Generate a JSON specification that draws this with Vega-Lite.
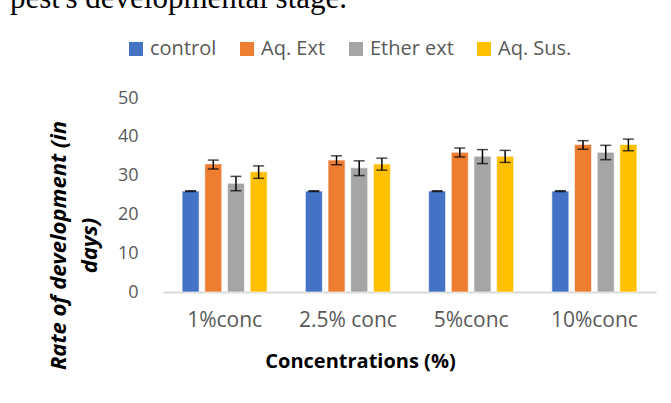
{
  "$schema": "https://vega.github.io/schema/vega-lite/v6.json",
  "width": 493,
  "height": 194,
  "autosize": {"type": "none"},
  "padding": {"left": 163, "top": 98, "right": 15, "bottom": 111},
  "background": "white",
  "config": {
    "view": {"stroke": null},
    "axisY": {
      "values": [0, 10, 20, 30, 40, 50],
      "labelOverlap": false,
      "labelFlush": false,
      "titleFont": "Open Sans",
      "titleFontSize": 22,
      "titleFontWeight": "bold",
      "titleFontStyle": "italic",
      "titleColor": "black",
      "titleLineHeight": 31,
      "titleX": -93,
      "titleY": 147,
      "labelFont": "Open Sans",
      "labelFontSize": 18,
      "labelColor": "#595959",
      "labelPadding": 25,
      "ticks": false,
      "domain": false,
      "grid": false
    }
  },
  "title": {
    "text": "pest's developmental stage.",
    "font": "Liberation Serif",
    "fontSize": 31,
    "fontWeight": "normal",
    "color": "black",
    "anchor": "start",
    "frame": "group",
    "baseline": "alphabetic",
    "dx": -153,
    "offset": 0
  },
  "data": {
    "values": [
      {"group": "1%conc", "series": "control", "value": 26, "lo": 25.9, "hi": 26.1},
      {"group": "1%conc", "series": "Aq. Ext", "value": 33, "lo": 31.7, "hi": 34.0},
      {"group": "1%conc", "series": "Ether ext", "value": 28, "lo": 26.1, "hi": 29.8},
      {"group": "1%conc", "series": "Aq. Sus.", "value": 31, "lo": 29.3, "hi": 32.5},
      {"group": "2.5% conc", "series": "control", "value": 26, "lo": 25.9, "hi": 26.1},
      {"group": "2.5% conc", "series": "Aq. Ext", "value": 34, "lo": 32.8, "hi": 35.1},
      {"group": "2.5% conc", "series": "Ether ext", "value": 32, "lo": 30.0, "hi": 33.8},
      {"group": "2.5% conc", "series": "Aq. Sus.", "value": 33, "lo": 31.4, "hi": 34.5},
      {"group": "5%conc", "series": "control", "value": 26, "lo": 25.9, "hi": 26.1},
      {"group": "5%conc", "series": "Aq. Ext", "value": 36, "lo": 34.8, "hi": 37.1},
      {"group": "5%conc", "series": "Ether ext", "value": 35, "lo": 33.1, "hi": 36.7},
      {"group": "5%conc", "series": "Aq. Sus.", "value": 35, "lo": 33.4, "hi": 36.5},
      {"group": "10%conc", "series": "control", "value": 26, "lo": 25.9, "hi": 26.1},
      {"group": "10%conc", "series": "Aq. Ext", "value": 38, "lo": 36.8, "hi": 39.0},
      {"group": "10%conc", "series": "Ether ext", "value": 36, "lo": 34.1, "hi": 37.8},
      {"group": "10%conc", "series": "Aq. Sus.", "value": 38, "lo": 36.4, "hi": 39.4}
    ]
  },
  "encoding": {
    "x": {
      "field": "group",
      "type": "nominal",
      "sort": ["1%conc", "2.5% conc", "5%conc", "10%conc"],
      "scale": {"paddingInner": 0.31, "paddingOuter": 0.155},
      "axis": {
        "title": "Concentrations (%)",
        "titleFont": "Open Sans",
        "titleFontSize": 20,
        "titleFontWeight": "bold",
        "titleColor": "black",
        "titlePadding": 21,
        "titleX": 197,
        "labelFont": "Open Sans",
        "labelFontSize": 21,
        "labelColor": "#595959",
        "labelAngle": 0,
        "labelPadding": 17,
        "ticks": false,
        "domainColor": "#D9D9D9",
        "domainWidth": 2,
        "grid": false
      }
    },
    "xOffset": {
      "field": "series",
      "type": "nominal",
      "sort": ["control", "Aq. Ext", "Ether ext", "Aq. Sus."],
      "scale": {"paddingInner": 0.25, "paddingOuter": 0}
    }
  },
  "layer": [
    {
      "mark": {"type": "bar", "stroke": "white", "strokeWidth": 1, "strokeOpacity": 0.6},
      "encoding": {
        "y": {
          "field": "value",
          "type": "quantitative",
          "scale": {"domain": [0, 50], "nice": false, "zero": true},
          "axis": {"title": ["Rate of development (in", "\u00a0\u00a0\u00a0\u00a0\u00a0\u00a0\u00a0\u00a0\u00a0\u00a0\u00a0\u00a0days)"]}
        },
        "color": {
          "field": "series",
          "type": "nominal",
          "sort": ["control", "Aq. Ext", "Ether ext", "Aq. Sus."],
          "scale": {
            "domain": ["control", "Aq. Ext", "Ether ext", "Aq. Sus."],
            "range": ["#4472C4", "#ED7D31", "#A5A5A5", "#FFC000"]
          },
          "legend": {
            "title": null,
            "orient": "none",
            "direction": "horizontal",
            "legendX": -37,
            "legendY": -59,
            "symbolType": "square",
            "symbolSize": 196,
            "symbolStrokeWidth": 0,
            "labelFont": "Open Sans",
            "labelFontSize": 20,
            "labelColor": "#595959",
            "labelOffset": 4,
            "columnPadding": 20
          }
        }
      }
    },
    {
      "mark": {"type": "rule", "color": "black", "strokeWidth": 1.5},
      "encoding": {
        "y": {"field": "lo", "type": "quantitative", "axis": {"title": ["Rate of development (in", "\u00a0\u00a0\u00a0\u00a0\u00a0\u00a0\u00a0\u00a0\u00a0\u00a0\u00a0\u00a0days)"]}},
        "y2": {"field": "hi"}
      }
    },
    {
      "mark": {"type": "tick", "color": "black", "thickness": 1.5, "size": 11},
      "encoding": {
        "y": {"field": "lo", "type": "quantitative", "axis": {"title": ["Rate of development (in", "\u00a0\u00a0\u00a0\u00a0\u00a0\u00a0\u00a0\u00a0\u00a0\u00a0\u00a0\u00a0days)"]}}
      }
    },
    {
      "mark": {"type": "tick", "color": "black", "thickness": 1.5, "size": 11},
      "encoding": {
        "y": {"field": "hi", "type": "quantitative", "axis": {"title": ["Rate of development (in", "\u00a0\u00a0\u00a0\u00a0\u00a0\u00a0\u00a0\u00a0\u00a0\u00a0\u00a0\u00a0days)"]}}
      }
    }
  ]
}
